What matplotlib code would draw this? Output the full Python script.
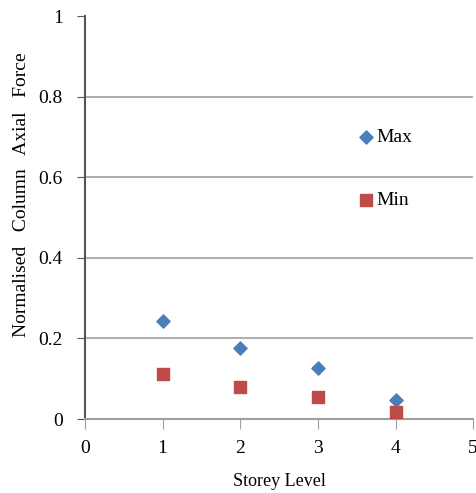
import matplotlib
matplotlib.use("Agg")
import matplotlib.pyplot as plt

storey = [1, 2, 3, 4]
max_vals = [0.243, 0.176, 0.127, 0.047]
min_vals = [0.112, 0.079, 0.055, 0.018]
xticks = [0, 1, 2, 3, 4, 5]
yticks = [0, 0.2, 0.4, 0.6, 0.8, 1]
ytick_labels = ["0", "0.2", "0.4", "0.6", "0.8", "1"]

plt.rcParams['font.family'] = ['Liberation Serif', 'DejaVu Serif']

fig = plt.figure(figsize=(4.77, 4.93), dpi=100)
ax = fig.add_axes([0.178, 0.150, 0.814, 0.8175])

ax.scatter(storey, max_vals, marker='D', s=45, color='#4a7ebb', label='Max', zorder=3)
ax.scatter(storey, min_vals, marker='s', s=75, color='#be4b48', label='Min', zorder=3)

ax.set_xlim(0, 5)
ax.set_ylim(0, 1)
ax.set_xticks(xticks)
ax.set_yticks(yticks)
ax.set_yticklabels(ytick_labels)
for y in yticks[1:-1]:
    ax.axhline(y, color='#a0a0a0', lw=1.2, zorder=1)

ax.spines['top'].set_visible(False)
ax.spines['right'].set_visible(False)
ax.spines['left'].set_color('#555555')
ax.spines['left'].set_linewidth(1.5)
ax.spines['bottom'].set_color('#a0a0a0')
ax.spines['bottom'].set_linewidth(1.5)
ax.tick_params(axis='y', direction='out', length=6, color='#555555', labelsize=14, pad=10)
ax.tick_params(axis='x', direction='out', length=7, color='#a0a0a0', labelsize=14, pad=8)

ax.set_xlabel('Storey Level', fontsize=13)
ax.xaxis.set_label_coords(0.5, -0.135)
ax.set_ylabel('Normalised   Column   Axial   Force', fontsize=14)
ax.yaxis.set_label_coords(-0.142, 0.556)

ax.legend(loc='upper left', bbox_to_anchor=(0.70, 0.721), frameon=False, fontsize=14,
          labelspacing=2.35, handletextpad=0.0, handlelength=1.0, borderpad=0,
          borderaxespad=0)

fig.savefig('out.png', dpi=100)
